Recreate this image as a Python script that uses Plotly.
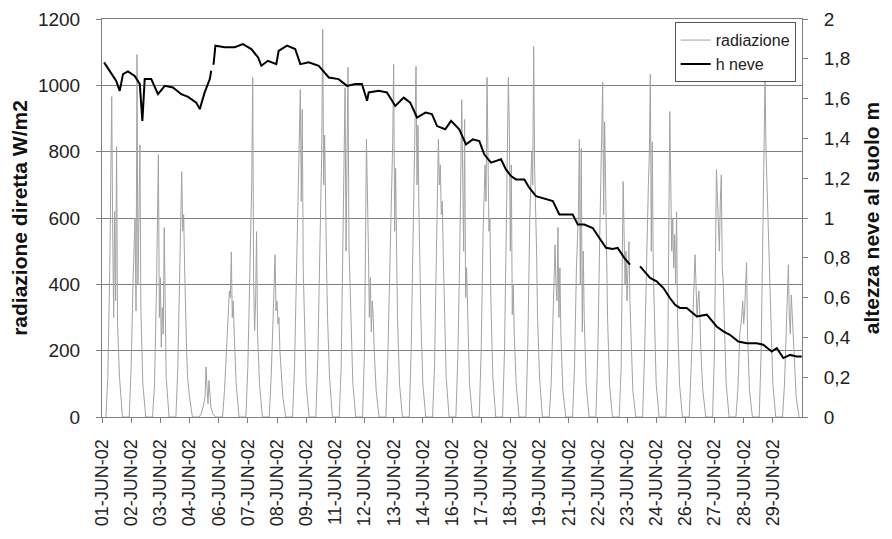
import plotly.graph_objects as go
from datetime import datetime, timedelta

START = datetime(2002, 6, 1)

# ---- radiation (W/m2): values read at these hours of each day ----
rad_hours = [4, 6, 8, 10, 11, 12, 13, 14, 15, 16, 18, 21]
rad_jun01 = [0, 120, 450, 966, 560, 300, 620, 350, 815, 280, 120, 0]
rad_jun02 = [0, 150, 420, 600, 320, 1093, 400, 650, 821, 320, 100, 0]
rad_jun03 = [0, 100, 380, 791, 300, 420, 210, 330, 250, 571, 120, 0]
rad_jun04 = [0, 150, 400, 740, 560, 610, 450, 300, 200, 120, 60, 0]
rad_jun05 = [0, 10, 30, 60, 151, 90, 40, 110, 60, 30, 10, 0]
rad_jun06 = [0, 80, 200, 330, 380, 360, 498, 300, 350, 250, 100, 0]
rad_jun07 = [0, 150, 420, 700, 1024, 400, 260, 350, 559, 250, 100, 0]
rad_jun08 = [0, 120, 300, 489, 320, 350, 280, 300, 200, 150, 60, 0]
rad_jun09 = [0, 150, 450, 700, 800, 987, 650, 927, 440, 300, 100, 0]
rad_jun10 = [0, 180, 500, 800, 1169, 700, 850, 600, 450, 300, 120, 0]
rad_jun11 = [0, 150, 600, 993, 500, 700, 1054, 520, 400, 250, 100, 0]
rad_jun12 = [0, 200, 837, 510, 300, 420, 257, 350, 300, 200, 80, 0]
rad_jun13 = [0, 180, 500, 700, 830, 1063, 560, 750, 500, 300, 100, 0]
rad_jun14 = [0, 200, 550, 860, 1057, 700, 880, 620, 450, 300, 100, 0]
rad_jun15 = [0, 150, 500, 837, 700, 760, 610, 650, 490, 350, 120, 0]
rad_jun16 = [0, 180, 500, 957, 660, 500, 897, 360, 450, 300, 100, 0]
rad_jun17 = [0, 200, 560, 760, 650, 1024, 700, 560, 600, 350, 120, 0]
rad_jun18 = [0, 200, 600, 1024, 861, 500, 760, 308, 400, 250, 100, 0]
rad_jun19 = [0, 220, 600, 800, 700, 1117, 750, 650, 500, 300, 120, 0]
rad_jun20 = [0, 100, 300, 519, 400, 350, 571, 300, 450, 250, 80, 0]
rad_jun21 = [0, 150, 450, 610, 837, 400, 810, 257, 500, 300, 100, 0]
rad_jun22 = [0, 200, 550, 850, 1009, 610, 890, 700, 500, 300, 100, 0]
rad_jun23 = [0, 150, 710, 400, 500, 350, 450, 529, 350, 250, 80, 0]
rad_jun24 = [0, 180, 500, 700, 800, 1033, 500, 830, 450, 300, 100, 0]
rad_jun25 = [0, 200, 921, 500, 600, 450, 550, 400, 619, 300, 100, 0]
rad_jun26 = [0, 150, 350, 489, 400, 300, 350, 380, 300, 200, 80, 0]
rad_jun27 = [0, 200, 746, 600, 500, 650, 730, 450, 407, 300, 100, 0]
rad_jun28 = [0, 80, 250, 300, 350, 280, 320, 400, 465, 250, 80, 0]
rad_jun29 = [0, 200, 600, 1024, 800, 700, 600, 500, 440, 300, 100, 0]
rad_jun30 = [0, 100, 300, 459, 300, 250, 368, 300, 250, 180, 60, 0]

rad_days = [rad_jun01, rad_jun02, rad_jun03, rad_jun04, rad_jun05, rad_jun06,
            rad_jun07, rad_jun08, rad_jun09, rad_jun10, rad_jun11, rad_jun12,
            rad_jun13, rad_jun14, rad_jun15, rad_jun16, rad_jun17, rad_jun18,
            rad_jun19, rad_jun20, rad_jun21, rad_jun22, rad_jun23, rad_jun24,
            rad_jun25, rad_jun26, rad_jun27, rad_jun28, rad_jun29, rad_jun30]

# ---- snow height (m): time in days since 01-JUN-02 00:00 ----
snow_day = [0.09, 0.40, 0.61, 0.76, 0.90, 1.11, 1.40, 1.62, 1.73, 1.83,
            2.11, 2.40, 2.69, 3.04, 3.40, 3.69, 4.04, 4.19, 4.40, 4.62,
            4.68, 4.73, 4.78, 4.86, 5.26, 5.69, 6.04, 6.40, 6.69, 6.83,
            7.11, 7.47, 7.57, 7.93, 8.28, 8.50, 8.86, 9.29, 9.72, 10.14,
            10.50, 10.86, 11.14, 11.36, 11.43, 11.86, 12.21, 12.57, 12.93, 13.21,
            13.50, 13.86, 14.14, 14.36, 14.71, 14.96, 15.31, 15.60, 15.89, 16.17,
            16.38, 16.67, 17.10, 17.31, 17.53, 17.74, 18.10, 18.31, 18.60, 19.03,
            19.32, 19.60, 19.89, 20.17, 20.39, 20.67, 21.03, 21.31, 21.60, 21.89,
            22.10, 22.38, 22.63, 22.85, 23.06, 23.49, 23.77, 24.06, 24.34, 24.56,
            24.77, 25.06, 25.49, 25.92, 26.34, 26.63, 26.91, 27.27, 27.63, 28.06,
            28.34, 28.70, 28.92, 29.20, 29.49, 29.77, 29.99]
snow_m = [1.782, 1.723, 1.689, 1.639, 1.723, 1.737, 1.714, 1.673, 1.488, 1.698,
          1.698, 1.622, 1.664, 1.656, 1.622, 1.609, 1.580, 1.547, 1.631, 1.698,
          1.740, None, 1.770, 1.866, 1.858, 1.858, 1.874, 1.849, 1.807, 1.765,
          1.790, 1.773, 1.840, 1.866, 1.849, 1.773, 1.782, 1.765, 1.706, 1.698,
          1.664, 1.673, 1.673, 1.589, 1.631, 1.639, 1.631, 1.563, 1.605, 1.580,
          1.505, 1.530, 1.522, 1.462, 1.446, 1.488, 1.446, 1.370, 1.395, 1.387,
          1.320, 1.278, 1.295, 1.244, 1.211, 1.194, 1.194, 1.152, 1.110, 1.093,
          1.085, 1.018, 1.018, 1.018, 0.967, 0.967, 0.950, 0.900, 0.850, 0.844,
          0.850, 0.800, 0.766, None, 0.757, 0.699, 0.682, 0.648, 0.598, 0.564,
          0.548, 0.548, 0.505, 0.514, 0.455, 0.430, 0.413, 0.379, 0.371, 0.371,
          0.363, 0.329, 0.346, 0.296, 0.312, 0.304, 0.304]

# ---- x tick labels (one every 30 hours) ----
tick_labels = ["01-JUN-02", "02-JUN-02", "03-JUN-02", "04-JUN-02", "06-JUN-02",
               "07-JUN-02", "08-JUN-02", "09-JUN-02", "11-JUN-02", "12-JUN-02",
               "13-JUN-02", "14-JUN-02", "16-JUN-02", "17-JUN-02", "18-JUN-02",
               "19-JUN-02", "21-JUN-02", "22-JUN-02", "23-JUN-02", "24-JUN-02",
               "26-JUN-02", "27-JUN-02", "28-JUN-02", "29-JUN-02"]
TICK_STEP_H = 30

rad_x, rad_y = [], []
for d, vals in enumerate(rad_days):
    for h, v in zip(rad_hours, vals):
        rad_x.append(START + timedelta(days=d, hours=h))
        rad_y.append(v)

snow_x = [START + timedelta(days=d) for d in snow_day]
tick_vals = [START + timedelta(hours=TICK_STEP_H * i) for i in range(len(tick_labels))]

FONT = "Liberation Sans, Arial, sans-serif"
AX = "#808080"

fig = go.Figure()
fig.add_trace(go.Scatter(x=rad_x, y=rad_y, mode="lines", name="radiazione",
                         line=dict(color="#a2a2a2", width=1)))
fig.add_trace(go.Scatter(x=snow_x, y=snow_m, mode="lines", name="h neve",
                         yaxis="y2", connectgaps=False,
                         line=dict(color="#000000", width=2)))

# the page body adds an 8px offset, so the figure is 8px smaller
fig.update_layout(
    width=884, height=531,
    margin=dict(l=94, r=90, t=11, b=122, autoexpand=False),
    paper_bgcolor="white", plot_bgcolor="white",
    separators=",.",
    font=dict(family=FONT, size=19, color="#222222"),
    showlegend=True,
    legend=dict(x=0.991, y=0.992, xanchor="right", yanchor="top",
                bgcolor="white", bordercolor="#555555", borderwidth=1,
                font=dict(size=16, color="#222222"), itemwidth=30,
                tracegroupgap=0),
    xaxis=dict(type="date", range=[START, START + timedelta(days=30)],
               tickmode="array", tickvals=tick_vals, ticktext=tick_labels,
               tickangle=-90, ticks="outside", ticklen=5, tickcolor=AX,
               tickfont=dict(size=18),
               showline=True, linecolor=AX, linewidth=1, mirror=True,
               showgrid=False, zeroline=False, ticklabelstandoff=9,
               automargin=False),
    yaxis=dict(range=[0, 1200], dtick=200, ticks="outside", ticklen=5,
               tickcolor=AX, showline=True, linecolor=AX, linewidth=1,
               showgrid=True, gridcolor=AX, gridwidth=1, zeroline=False,
               ticklabelstandoff=12, automargin=False,
               title=dict(text="<b>radiazione diretta W/m2</b>",
                          font=dict(size=21, color="#111111"), standoff=4)),
    yaxis2=dict(range=[0, 2], dtick=0.2, overlaying="y", side="right",
                ticks="outside", ticklen=5, tickcolor=AX, showline=True,
                linecolor=AX, linewidth=1, showgrid=False, zeroline=False,
                ticklabelstandoff=12, automargin=False,
                title=dict(text="<b>altezza neve al suolo m</b>",
                           font=dict(size=21, color="#111111"), standoff=14)),
)

fig.write_html("out.html")
